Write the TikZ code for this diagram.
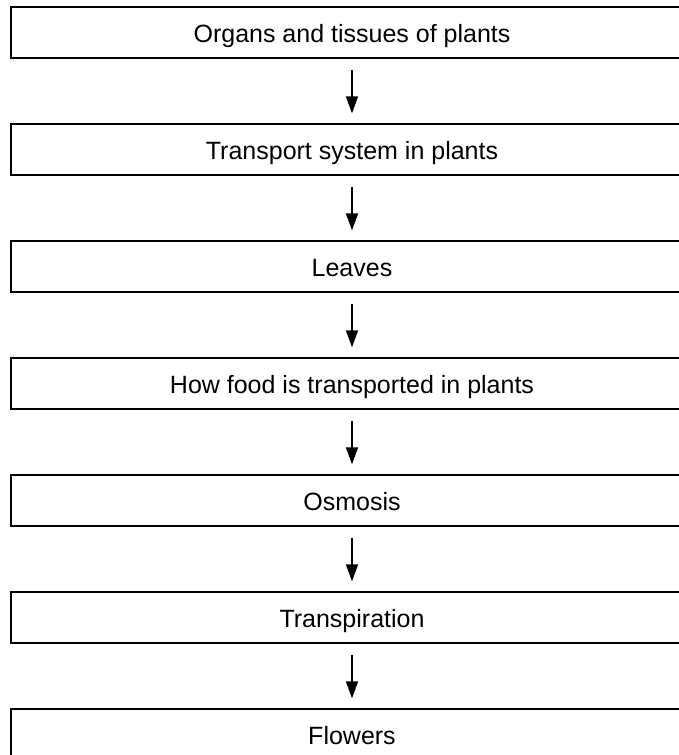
\documentclass[tikz,border=0pt]{standalone}
\usepackage{fontspec}
\setmainfont{Liberation Sans}
\usetikzlibrary{arrows.meta}

\begin{document}
\begin{tikzpicture}[->,>={Triangle[length=17pt,width=12pt]},shorten >=10pt,shorten <=11pt,
      x=1pt,y=1pt,node distance=117pt,
      topic/.style={draw,line width=1.4pt,minimum width=682pt,minimum height=51pt,
        inner sep=0pt,text height=24pt,text depth=5pt,font=\fontsize{25}{30}\selectfont}]

    \useasboundingbox (0,0) rectangle (679,-755);
    \clip (0,0) rectangle (679,-755);

    \node[topic] (O) at (352,-32.5) {Organs and tissues of plants};
    \node[topic] (T) [below of=O] {Transport system in plants};
    \node[topic] (L) [below of=T] {Leaves};
    \node[topic] (F) [below of=L] {How food is transported in plants};
    \node[topic] (M) [below of=F] {Osmosis};
    \node[topic] (R) [below of=M] {Transpiration};
    \node[topic] (W) [below of=R] {Flowers};

    \path[line width=1.8pt] (O) edge (T)
    (T) edge (L)
    (L) edge (F)
    (F) edge (M)
    (M) edge (R)
    (R) edge (W);

    \end{tikzpicture}
\end{document}
